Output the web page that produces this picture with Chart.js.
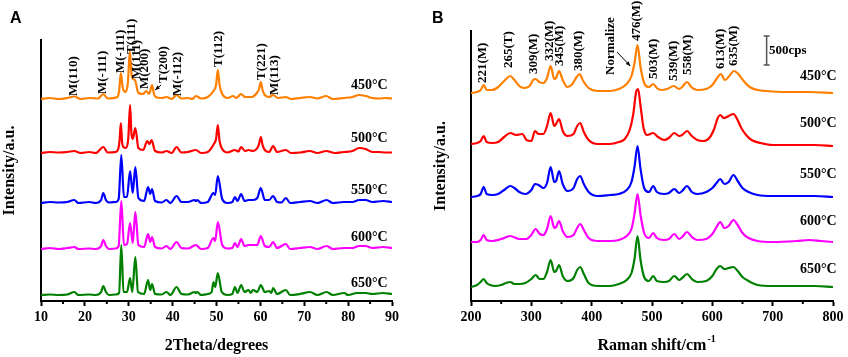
<!DOCTYPE html>
<html>
<head>
<meta charset="utf-8">
<script src="https://cdn.jsdelivr.net/npm/chart.js@4.4.1/dist/chart.umd.min.js"></script>
<style>
  body { margin: 0; background: #fff; }
  #wrap { position: relative; width: 848px; height: 357px; }
  canvas { position: absolute; top: 0; }
  #xrd { left: 0; }
  #raman { left: 424px; }
  .tag { position: absolute; font: bold 16px "Liberation Sans", Arial, sans-serif; }
</style>
</head>
<body>
<div id="wrap">
  <canvas id="xrd" width="424" height="357"></canvas>
  <canvas id="raman" width="424" height="357"></canvas>
  <div class="tag" style="left:10px; top:9px">A</div>
  <div class="tag" style="left:432px; top:9px">B</div>
</div>
<script>
const SERIF = '"Liberation Serif", "Times New Roman", serif';

// calcination temperatures + trace colours
const temps = ["450°C", "500°C", "550°C", "600°C", "650°C"];
const colors = ["#ff8000", "#ff0000", "#0000ff", "#ff00ff", "#008000"];

// ---- XRD (panel A): [2theta, intensity above own baseline] ----
const xrd450 = [[10,0],[12,1],[14,0],[16,1],[17.6,2.5],[19,0],[21,1],[23,0.5],[24.2,5],[25.2,0.5],[27.4,2],[27.8,8],[28.2,26],[28.6,12],[29.3,7],[29.8,16],[30.25,48],[30.7,22],[31.4,19],[32.2,6],[33.2,5],[34.0,8],[34.6,5],[34.9,8],[35.3,14],[35.7,6],[36.1,2],[37.5,1],[38.6,2],[39.8,0],[40.9,4],[42,0.5],[43.5,1],[44.5,0],[45.3,3],[46.5,0.5],[48,2],[49.3,8],[49.9,14],[50.3,29],[50.7,14],[51.2,6],[52.5,1],[53.8,3],[54.5,1],[55.6,5],[56.5,2],[58,2],[59.2,6],[59.7,10],[60.1,17],[60.5,9],[61,4],[62,2],[62.9,4],[64,1],[65.8,2],[67,0],[69,1],[71.3,2],[73,0.5],[75,3],[76.5,0],[79,1],[81,2],[82.5,4],[84,3],[85.5,1],[87,0.5],[88.5,1],[90,0.5]];
const xrd500 = [[10,0],[12,1],[14,0.5],[16,1],[17.6,2],[19,0],[21,1],[22.5,0],[24.2,6],[25.2,0.5],[27,1],[27.6,4],[27.9,12],[28.2,30],[28.5,10],[28.8,6],[29.4,5],[29.9,15],[30.3,48],[30.6,20],[30.9,14],[31.5,25],[32.2,5],[33.3,3],[34.2,12],[34.7,9],[35.2,13],[36,2],[37.5,0.5],[38.6,2],[39.8,0],[40.9,6],[42,0.5],[43.5,1],[45.3,3],[46.5,0],[48,1],[49.4,9],[49.9,14],[50.3,28],[50.7,12],[51.3,4],[52.5,0.5],[54.2,3],[55,1.5],[55.6,6],[56.5,2],[57.3,3],[58.3,2],[59.3,5],[59.7,9],[60.1,16],[60.5,8],[61,3],[62,1],[62.9,7],[63.8,1],[65.8,3],[67,0],[69,0.5],[71.3,2],[73,0],[75,2],[77,0],[79,1],[81,2],[82.5,5],[84,4],[85.5,1],[87,1],[88.5,0.5],[90,0.5]];
const xrd550 = [[10,0],[12,1],[14,0.5],[16,1],[17.6,3],[18.5,0],[21,1],[22.5,0],[23.7,3],[24.2,10],[24.8,3],[25.5,0.5],[27,1],[27.7,4],[28.3,48],[28.9,6],[29.6,6],[30.3,32],[30.9,10],[31.5,36],[32.2,5],[33.5,2],[34.4,16],[34.9,9],[35.3,14],[36,2],[37.5,0.5],[38.6,3],[39.5,0],[40.9,7],[42,1],[43.5,1],[45.0,3],[45.3,2],[45.6,3],[46.5,0],[48,1],[49.3,10],[49.7,8],[50.3,27],[51.3,4],[52.5,0],[53.6,1],[54.2,6],[54.8,2],[55.6,9],[56.4,2],[57.3,3],[58.3,3],[59.3,5],[60.1,15],[61,3],[62,3],[62.9,7],[63.8,1],[64.8,0.5],[65.8,5],[66.8,0],[69,1],[71.3,2],[73,0],[75.1,3],[76.5,0],[79,1],[81,1],[82.5,3],[84,3],[85.5,1],[88,2],[90,1]];
const xrd600 = [[10,0],[12,1],[14,0],[16,1],[17.6,2],[18.5,0],[21,0.5],[22.5,0],[23.7,3],[24.2,9],[24.8,3],[25.5,0],[27,0.5],[27.7,3],[28.3,48],[28.9,4],[29.6,5],[30.3,26],[30.9,6],[31.5,37],[32.2,4],[33.5,2],[34.4,15],[34.9,7],[35.3,12],[36,2],[37.5,0.5],[38.6,3],[39.5,0],[40.9,7],[42,1],[43.5,0.5],[45.3,4],[46.5,0],[48,1],[49.3,11],[49.7,8],[50.3,27],[51.3,4],[52.5,0.5],[53.6,1],[54.2,6],[54.8,2],[55.6,10],[56.4,3],[57.3,4],[58.3,4],[59.3,4],[60.1,13],[61,3],[62,2],[62.9,7],[63.8,1],[65.8,5],[66.8,0],[69,1],[71.3,2],[73,0],[75.1,3],[76.5,0],[79,1],[81,1],[82.5,3],[84,3],[85.5,1],[88,2],[90,1]];
const xrd650 = [[10,0],[12,0.5],[14,0],[16,0.5],[17.6,3],[18.5,0],[21,0.5],[22.5,0],[23.7,3],[24.2,9],[24.8,3],[25.5,0],[27,0.5],[27.8,2],[28.3,50],[28.8,3],[29.6,3],[30.3,17],[30.8,3],[31.5,38],[32.1,3],[33.5,1],[34.4,15],[34.9,5],[35.3,11],[36,1],[37.5,0.5],[38.6,3],[39.5,0],[40.9,8],[42,1],[43.5,0.5],[45.0,3],[45.3,2],[45.6,3],[46.5,0],[48,1],[48.9,3],[49.3,13],[49.7,8],[50.3,22],[51.2,3],[52.5,0],[53.6,1],[54.2,8],[54.8,2],[55.6,10],[56.4,3],[57.3,5],[57.8,2],[58.3,5],[59.3,3],[60.1,10],[61,3],[62,4],[62.5,2],[62.9,7],[63.8,1],[65.8,5],[66.8,0],[69,1],[71.3,3],[73,0],[75.1,3],[76.5,0],[79.1,2],[80,0],[82,2],[84,2],[85.5,1],[88,2],[90,1]];
const offsetsA = [202, 148, 98, 52, 6];

// ---- Raman (panel B): [shift cm-1, intensity above own baseline] ----
const ram450 = [[200,0],[210,1],[216,3],[221,8],[226,3],[235,3],[245,6],[255,12],[265,17],[272,13],[280,7],[288,5],[297,7],[303,13],[307,14],[313,11],[320,10],[326,15],[332,27],[338,14],[341,15],[346,22],[352,13],[360,6],[368,9],[375,16],[380,19],[386,12],[395,5],[410,2],[430,2],[445,4],[458,9],[466,17],[471,30],[476,48],[481,26],[487,10],[495,6],[502,9],[508,5],[515,3],[525,4],[536,7],[545,4],[550,6],[558,11],[565,6],[575,3],[590,4],[600,8],[608,15],[614,19],[621,13],[628,17],[636,22],[643,19],[652,12],[662,6],[675,3],[690,2],[720,1],[760,1],[800,0]];
const ram500 = [[200,2],[210,3],[216,5],[221,10],[226,4],[235,3],[245,4],[255,9],[265,13],[275,11],[285,12],[292,6],[300,5],[306,15],[312,12],[320,12],[326,20],[332,33],[338,20],[341,22],[346,27],[352,15],[360,10],[370,12],[376,20],[381,23],[387,14],[395,6],[410,2],[430,2],[445,4],[455,7],[463,16],[469,32],[474,55],[477,57],[481,40],[486,18],[492,11],[502,13],[510,9],[520,6],[528,8],[537,13],[545,10],[550,11],[558,15],[566,10],[575,6],[585,5],[595,8],[603,17],[609,28],[613,31],[619,28],[624,29],[630,31],[635,32],[641,27],[648,18],[656,11],[665,6],[680,3],[700,1],[740,1],[770,1],[800,0]];
const ram550 = [[200,0],[210,1],[216,3],[221,10],[226,3],[235,2],[245,3],[255,7],[265,11],[272,9],[280,5],[290,3],[300,7],[306,13],[312,12],[320,9],[326,14],[332,30],[338,15],[341,16],[346,26],[352,13],[360,6],[370,9],[376,18],[381,21],[387,13],[395,5],[410,1],[430,2],[445,3],[458,7],[466,15],[471,30],[476,51],[481,28],[487,9],[495,5],[502,11],[508,5],[520,3],[528,4],[537,8],[545,4],[550,6],[558,11],[566,5],[575,3],[590,5],[600,9],[607,14],[613,18],[620,13],[627,15],[635,22],[642,16],[650,9],[660,5],[675,2],[700,1],[740,1],[770,1],[800,0]];
const ram600 = [[200,0],[210,0],[216,2],[221,7],[226,2],[235,1],[250,3],[265,6],[280,3],[292,3],[300,7],[307,13],[314,8],[320,7],[326,13],[332,26],[338,14],[341,15],[346,21],[352,11],[360,5],[370,7],[376,14],[381,18],[387,12],[395,4],[410,1],[430,1],[445,2],[458,6],[466,13],[471,28],[476,48],[481,27],[487,9],[495,4],[502,9],[508,4],[520,2],[528,3],[537,8],[545,3],[550,5],[558,10],[566,5],[575,2],[590,3],[600,8],[607,15],[613,20],[620,14],[627,16],[635,22],[642,17],[650,9],[660,4],[675,1],[700,0],[740,1],[760,2],[780,1],[800,0]];
const ram650 = [[200,0],[210,2],[216,5],[221,8],[226,4],[232,2],[240,1],[250,2],[258,4],[265,5],[272,3],[280,3],[290,4],[300,8],[307,12],[314,8],[320,8],[326,15],[332,27],[338,15],[341,16],[346,22],[352,11],[360,6],[370,9],[376,17],[381,20],[387,13],[395,4],[410,1],[430,1],[445,3],[458,7],[466,14],[471,28],[476,51],[481,27],[487,10],[495,6],[502,11],[508,6],[520,5],[528,6],[537,11],[545,7],[550,9],[558,13],[566,8],[575,5],[590,6],[600,11],[607,18],[613,21],[620,18],[627,19],[635,20],[642,16],[650,10],[660,6],[675,2],[700,1],[740,1],[770,1],[800,0]];
const offsetsB = [208, 155, 104, 59, 14];

// peak assignments: [text, x, y of label foot]
const peaksA = [["M(110)",17.5,205],["M(-111)",24.1,207],["M(-111)",28.1,228],["T(111)",30.6,247],["M(111)",31.8,222],["M(200)",33.7,212],["T(200)",38.0,218],["M(-112)",41.2,205],["T(112)",50.4,234],["T(221)",60.3,221],["M(113)",63.3,206]];
const peaksB = [["221(M)",220,218],["265(T)",263,233],["309(M)",304,227],["332(M)",330,240],["345(M)",347,235],["380(M)",379,230],["476(M)",475,260],["503(M)",502,222],["539(M)",536,220],["558(M)",559,226],["613(M)",613,232],["635(M)",636,235]];

// temperature tag positions (right edge x, y)
const tempPosA = [[89,216],[89,163],[89,111],[89,64],[89,18]];
const tempPosB = [[806,225],[806,178],[806,127],[806,80],[806,32]];

function buildSets(list, offsets) {
    return list.map((pts, i) => ({
        label: temps[i],
        data: pts.map(([x, y]) => ({ x: x, y: y + offsets[i] })),
        borderColor: colors[i],
        borderWidth: 2.2,
        pointRadius: 0,
        cubicInterpolationMode: "monotone",
        fill: false
    }));
}

// draws peak labels, temperature tags, minor ticks and extras
const annotate = {
    id: "annotate",
    afterDraw(chart, args, o) {
        const { ctx, scales: { x, y } } = chart;
        const px = v => x.getPixelForValue(v), py = v => y.getPixelForValue(v);
        ctx.save();

        // minor ticks
        ctx.strokeStyle = "#000";
        ctx.lineWidth = 2;
        o.minor.forEach(v => {
            ctx.beginPath();
            ctx.moveTo(px(v), y.bottom);
            ctx.lineTo(px(v), y.bottom + 3);
            ctx.stroke();
        });

        ctx.fillStyle = "#000";
        ctx.textBaseline = "middle";

        // rotated peak labels
        ctx.font = "bold 13px " + SERIF;
        ctx.textAlign = "left";
        o.peaks.forEach(([t, vx, vy]) => {
            ctx.save();
            ctx.translate(px(vx), py(vy));
            ctx.rotate(-Math.PI / 2);
            ctx.fillText(t, 0, 0);
            ctx.restore();
        });

        // temperature tags
        ctx.font = "bold 14px " + SERIF;
        ctx.textAlign = "right";
        o.tempPos.forEach(([vx, vy], i) => ctx.fillText(temps[i], px(vx), py(vy)));

        // arrows
        ctx.lineWidth = 1;
        (o.arrows || []).forEach(([x1, y1, x2, y2]) => {
            const ax = px(x1), ay = py(y1), bx = px(x2), by = py(y2);
            const a = Math.atan2(by - ay, bx - ax);
            ctx.beginPath();
            ctx.moveTo(ax, ay);
            ctx.lineTo(bx, by);
            ctx.stroke();
            ctx.beginPath();
            ctx.moveTo(bx, by);
            ctx.lineTo(bx - 5 * Math.cos(a - 0.4), by - 5 * Math.sin(a - 0.4));
            ctx.lineTo(bx - 5 * Math.cos(a + 0.4), by - 5 * Math.sin(a + 0.4));
            ctx.closePath();
            ctx.fill();
        });

        if (o.extra) o.extra(ctx, px, py, x);
        ctx.restore();
    }
};

function makeChart(id, sets, cfg) {
    return new Chart(document.getElementById(id), {
        type: "line",
        data: { datasets: sets },
        plugins: [annotate],
        options: {
            responsive: false,
            devicePixelRatio: 1,
            animation: false,
            layout: { padding: cfg.padding },
            plugins: {
                legend: { display: false },
                tooltip: { enabled: false },
                annotate: cfg.annot
            },
            scales: {
                x: {
                    type: "linear",
                    min: cfg.xMin, max: cfg.xMax,
                    ticks: {
                        stepSize: cfg.step, color: "#000", padding: 3,
                        font: { family: SERIF, weight: "bold", size: 14 }
                    },
                    grid: { drawOnChartArea: false, tickLength: 5, tickWidth: 2, tickColor: "#000" },
                    border: { color: "#000", width: 2 },
                    title: {
                        display: true, text: cfg.xTitle, color: "#000",
                        padding: { top: 0, bottom: 2 },
                        font: { family: SERIF, weight: "bold", size: 16 }
                    },
                    afterFit: s => { s.height = 56; }
                },
                y: {
                    min: 0, max: cfg.yMax,
                    ticks: { display: false },
                    grid: { display: false },
                    border: { color: "#000", width: 2 },
                    title: {
                        display: true, text: "Intensity/a.u.", color: "#000",
                        padding: { top: 0, bottom: 0 },
                        font: { family: SERIF, weight: "bold", size: 16 }
                    },
                    afterFit: s => { s.width = cfg.yWidth; }
                }
            }
        }
    });
}

// Panel A: XRD
makeChart("xrd", buildSets([xrd450, xrd500, xrd550, xrd600, xrd650], offsetsA), {
    padding: { top: 40, right: 32, left: 0, bottom: 0 },
    xMin: 10, xMax: 90, step: 10, yMax: 261, yWidth: 41,
    xTitle: "2Theta/degrees",
    annot: {
        peaks: peaksA,
        tempPos: tempPosA,
        minor: [15, 25, 35, 45, 55, 65, 75, 85],
        arrows: [[37.4, 216, 36.0, 211]]
    }
});

// Panel B: Raman
makeChart("raman", buildSets([ram450, ram500, ram550, ram600, ram650], offsetsB), {
    padding: { top: 31, right: 15, left: 7, bottom: 0 },
    xMin: 200, xMax: 800, step: 100, yMax: 270, yWidth: 40,
    xTitle: "Raman shift/cm",
    annot: {
        peaks: peaksB,
        tempPos: tempPosB,
        minor: [250, 350, 450, 550, 650, 750],
        arrows: [[442, 249, 464, 235]],
        extra: (ctx, px, py, x) => {
            // "Normalize" note
            ctx.save();
            ctx.font = "bold 13px " + SERIF;
            ctx.textAlign = "center";
            ctx.translate(px(431), py(255));
            ctx.rotate(-Math.PI / 2);
            ctx.fillText("Normalize", 0, 0);
            ctx.restore();

            // 500cps scale bar
            const bx = px(690), y1 = py(236), y2 = py(265);
            ctx.strokeStyle = "#555";
            ctx.lineWidth = 1.5;
            ctx.beginPath();
            ctx.moveTo(bx, y1); ctx.lineTo(bx, y2);
            ctx.moveTo(bx - 3, y1); ctx.lineTo(bx + 3, y1);
            ctx.moveTo(bx - 3, y2); ctx.lineTo(bx + 3, y2);
            ctx.stroke();
            ctx.font = "bold 13px " + SERIF;
            ctx.textAlign = "left";
            ctx.fillText("500cps", px(694), py(250));

            // superscript on the axis title
            ctx.font = "bold 16px " + SERIF;
            const w = ctx.measureText("Raman shift/cm").width;
            const tx = (x.left + x.right) / 2 + w / 2 + 1;
            const ty = x.bottom - 2 - 9.6 - 6;
            ctx.font = "bold 10px " + SERIF;
            ctx.fillText("-1", tx, ty);
        }
    }
});
</script>
</body>
</html>
